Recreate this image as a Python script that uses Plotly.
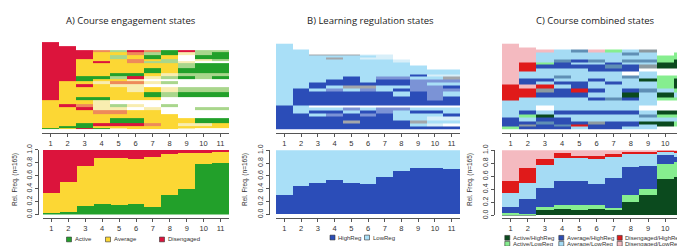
import plotly.graph_objects as go

W, H = 685, 246
def fx(px): return px / W
def fy(px): return 1 - px / H

times = list(range(1, 12))
tick_labels = [str(t) for t in times]
y_ticks = [0, 0.2, 0.4, 0.6, 0.8, 1.0]
y_tick_labels = ["0.0", "0.2", "0.4", "0.6", "0.8", "1.0"]

# ---------------- Panel A: course engagement ----------------
eng_states = ["Active", "Average", "Disengaged"]
eng_colors = ["#22A02A", "#FCD734", "#DC143C"]
eng_active = [0.03, 0.035, 0.13, 0.16, 0.15, 0.16, 0.11, 0.30, 0.39, 0.78, 0.80]
eng_average = [0.30, 0.47, 0.63, 0.71, 0.72, 0.70, 0.775, 0.64, 0.56, 0.18, 0.18]
eng_diseng = [0.67, 0.495, 0.24, 0.13, 0.13, 0.14, 0.115, 0.06, 0.05, 0.04, 0.02]

# sequence index plot rows (top to bottom), '.' = missing
seqA_codes = ["A", "V", "D", "a", "v", "d"]
seqA_colors = ["#22A02A", "#FCD734", "#DC143C", "#A9D68C", "#F8EDB0", "#EE8A5A"]
seqA_rows = [
    "D..........", "DD.........", "DDDdaDdADaa", "DDDVVdaAvaA", "DDDVaVAV.AA",
    "DDVVVdVa.va", "DDVDVdaav..", "DDVVVVVVaAA", "DDVVVVAVAAA", "DDVVAAVvaaa",
    "DDAAaDvaAaA", "DDAVVv.....", "DVVvddva...", "DVDVvv.....", "DVVVVvVvaaa",
    "DVVVVVAaAAA", "DVAAVVV....", "VVVv.......", "VDdvav.a...", "VVDvv.v..aa",
    "VVVddVV....", "VVVVVVVV...", "VVVVAAVVVAA", "VVADDDdVvvV", "VAAVVVVVVVV",
    "AVDAvVVVv..",
]
seqA_weights = [7, 7, 4, 6, 7, 5, 4, 9, 9, 6, 5, 4, 6, 5, 10, 8, 6, 7, 6, 6, 7, 8, 8, 6, 4, 3]

# ---------------- Panel B: learning regulation ----------------
reg_states = ["HighReg", "LowReg"]
reg_colors = ["#2B4DB8", "#A9DFF7"]
reg_high = [0.295, 0.445, 0.485, 0.535, 0.485, 0.47, 0.585, 0.67, 0.72, 0.72, 0.70]
reg_low = [0.705, 0.555, 0.515, 0.465, 0.515, 0.53, 0.415, 0.33, 0.28, 0.28, 0.30]

seqB_codes = ["H", "L", "h", "w", "x"]
seqB_colors = ["#2B4DB8", "#A9DFF7", "#7B93D6", "#D8EFF9", "#A3A6AA"]
seqB_rows = [
    "L..........", "LL.........", "LLxxxww....", "LLLLLLw....", "LLLxLww....",
    "LLLLLLLw...", "LLLLLLLL...", "LLLLLLLLL..", "LLLLLLLLLLL", "LLLLLLLLHww",
    "LLLLHLhhLLx", "LLLHHLHHhhh", "LLHHHHHHhLL", "LLHLxxLLhhH", "LHLhLhLHhhh",
    "LHHHHHHLHhL", "LHHHHHHHHhH", "LHHHHHHHHHH", "HL.........", "HLLLhLhhLLL",
    "HLHHLHhLHHL", "HHLhHhHLLLH", "HHHHHHHLLww", "HHHHxHHHxLL", "HHHHHHHHLw.",
    "HHHHHHHHHHH",
]
seqB_weights = [11, 9, 2, 4, 4, 5, 6, 7, 10, 4, 5, 6, 6, 5, 6, 9, 9, 9, 4, 5, 6, 6, 6, 6, 6, 6]

# ---------------- Panel C: combined states ----------------
comb_states = ["Active/HighReg", "Active/LowReg", "Average/HighReg",
               "Average/LowReg", "Disengaged/HighReg", "Disengaged/LowReg"]
comb_colors = ["#0B4A1E", "#86EE8F", "#2D4DB3", "#A5DBF4", "#E01A1A", "#F4BAC0"]
comb_act_high = [0.01, 0.015, 0.085, 0.10, 0.085, 0.095, 0.075, 0.205, 0.31, 0.55, 0.59]
comb_act_low = [0.025, 0.01, 0.045, 0.06, 0.065, 0.06, 0.04, 0.10, 0.085, 0.24, 0.22]
comb_avg_high = [0.095, 0.22, 0.29, 0.37, 0.37, 0.325, 0.46, 0.435, 0.365, 0.135, 0.09]
comb_avg_low = [0.205, 0.255, 0.35, 0.345, 0.355, 0.38, 0.32, 0.21, 0.185, 0.05, 0.06]
comb_dis_high = [0.185, 0.22, 0.09, 0.075, 0.035, 0.045, 0.04, 0.02, 0.025, 0.015, 0.025]
comb_dis_low = [0.48, 0.28, 0.14, 0.05, 0.09, 0.095, 0.065, 0.03, 0.03, 0.01, 0.015]

seqC_codes = ["G", "g", "B", "b", "R", "P", "s", "x"]
seqC_colors = ["#0B4A1E", "#86EE8F", "#2D4DB3", "#A5DBF4", "#E01A1A", "#F4BAC0", "#5F8FB5", "#8C9AA0"]
seqC_rows = [
    "P..........", "PP.........", "PPPbsPgbx..", "PPbbbbbsb.g", "PPbbbbbbbgg",
    "PPbsBsbssgG", "PRgBbbBbbGG", "PRBBBBsBxGG", "PRbbbBBB...", "Pbbbbbb.b..",
    "Pbbsbbbsbgg", "PBBbbBbbGgG", "PBbBBbBbbgG", "RPRbBbbbbgG", "RRxBRBbBsbg",
    "RRBBBbbGbGb", "RbbbbBsBbgg", "bbbbbbbbb..", "bb.bbbbb...", "bBbBBBBBbGG",
    "bgGbbbbbsgg", "BbBBbbbbbbb", "BBsBBxBBGGg", "BxBsRBBBbGg", "gBBBbBBbb..",
]
seqC_weights = [8, 4, 4, 6, 7, 6, 5, 6, 6, 7, 6, 6, 6, 7, 8, 8, 7, 9, 9, 7, 6, 8, 6, 4, 5]

fig = go.Figure()

def seq_heatmap(rows, weights, codes, colors, xa, ya):
    rows_b = rows[::-1]
    w_b = weights[::-1]
    edges = [0]
    for w in w_b:
        edges.append(edges[-1] + w)
    z = [[(codes.index(c) if c != "." else None) for c in r] for r in rows_b]
    n = len(codes)
    cs = []
    for i, col in enumerate(colors):
        cs.append([i / n, col])
        cs.append([(i + 1) / n, col])
    return go.Heatmap(z=z, x=[t - 0.5 for t in times] + [times[-1] + 0.5], y=edges,
                      zmin=-0.5, zmax=n - 0.5, colorscale=cs, showscale=False,
                      xaxis=xa, yaxis=ya, hoverinfo="skip"), edges[-1]

trA, totA = seq_heatmap(seqA_rows, seqA_weights, seqA_codes, seqA_colors, "x", "y")
trB, totB = seq_heatmap(seqB_rows, seqB_weights, seqB_codes, seqB_colors, "x2", "y2")
trC, totC = seq_heatmap(seqC_rows, seqC_weights, seqC_codes, seqC_colors, "x3", "y3")
fig.add_trace(trA); fig.add_trace(trB); fig.add_trace(trC)

def add_bars(series, colors, names, xa, ya):
    for vals, col, nm in zip(series, colors, names):
        fig.add_trace(go.Bar(x=times, y=vals, name=nm, marker=dict(color=col, line=dict(width=0)),
                             width=1, xaxis=xa, yaxis=ya, showlegend=False, hoverinfo="skip"))

add_bars([eng_active, eng_average, eng_diseng], eng_colors, eng_states, "x4", "y4")
add_bars([reg_high, reg_low], reg_colors, reg_states, "x5", "y5")
add_bars([comb_act_high, comb_act_low, comb_avg_high, comb_avg_low, comb_dis_high, comb_dis_low],
         comb_colors, comb_states, "x6", "y6")

AX = "#555555"
TXT = "#333333"
tick_font = dict(family="Liberation Sans, Arial", size=7.5, color=TXT)

def xaxis_cfg(x0, x1, pos):
    return dict(domain=[fx(x0), fx(x1)], range=[0.5, 11.5], anchor="free", position=fy(pos),
                showline=True, linecolor=AX, linewidth=1, ticks="outside", ticklen=3,
                tickcolor=AX, tickvals=times, ticktext=tick_labels, tickfont=tick_font,
                showgrid=False, zeroline=False, fixedrange=True)

def ytop_cfg(y0, y1, tot):
    return dict(domain=[fy(y1), fy(y0)], range=[0, tot], visible=False, showgrid=False)

def ybot_cfg(y0, y1, pos):
    return dict(domain=[fy(y1), fy(y0)], range=[0, 1], anchor="free", position=fx(pos),
                showline=True, linecolor=AX, linewidth=1, ticks="outside", ticklen=3,
                tickcolor=AX, tickvals=y_ticks, ticktext=y_tick_labels, tickangle=-90,
                tickfont=dict(family="Liberation Sans, Arial", size=7, color=TXT),
                showgrid=False, zeroline=False)

fig.update_layout(
    xaxis=xaxis_cfg(34, 221, 124), yaxis=ytop_cfg(29.3, 120.5, totA),
    xaxis2=xaxis_cfg(268, 452, 124), yaxis2=ytop_cfg(30.7, 120.5, totB),
    xaxis3=xaxis_cfg(494, 683, 124), yaxis3=ytop_cfg(30.7, 120.5, totC),
    xaxis4=xaxis_cfg(35, 221, 213), yaxis4=ybot_cfg(141.7, 209, 30),
    xaxis5=xaxis_cfg(268, 452, 213), yaxis5=ybot_cfg(142, 209, 260.5),
    xaxis6=xaxis_cfg(494, 683, 213), yaxis6=ybot_cfg(142, 210, 486),
)

annotations = []
title_font = dict(family="Open Sans, Liberation Sans", size=9.5, color="#222222")
for txt, cx in [("A) Course engagement states", 123), ("B) Learning regulation states", 362),
                ("C) Course combined states", 587)]:
    annotations.append(dict(text=txt, x=fx(cx), y=fy(7), xref="paper", yref="paper",
                            xanchor="center", yanchor="middle", showarrow=False, font=title_font))
for cx in [7, 237, 462]:
    annotations.append(dict(text="Rel. Freq. (n=165)", x=fx(cx), y=fy(173), xref="paper", yref="paper",
                            xanchor="center", yanchor="middle", textangle=-90, showarrow=False,
                            font=dict(family="Liberation Sans, Arial", size=6.5, color=TXT)))

shapes = []
leg_font = dict(family="Liberation Sans, Arial", size=6, color=TXT)
def legend_item(cx, cy, color, label):
    s = 2.5
    shapes.append(dict(type="rect", xref="paper", yref="paper", x0=fx(cx - s), x1=fx(cx + s),
                       y0=fy(cy + s), y1=fy(cy - s), fillcolor=color, line=dict(color="#333333", width=0.6)))
    annotations.append(dict(text=label, x=fx(cx + 3.5), y=fy(cy), xref="paper", yref="paper",
                            xanchor="left", yanchor="middle", showarrow=False, font=leg_font))

for cx, col, lab in zip([61, 100, 154], eng_colors, eng_states):
    legend_item(cx, 235, col, lab)
for cx, col, lab in zip([324.5, 359], reg_colors, reg_states):
    legend_item(cx, 233, col, lab)
leg_cx = [499.3, 553.3, 611.7, 499.3, 553.3, 611.7]
leg_cy = [233.3, 233.3, 233.3, 239.5, 239.5, 239.5]
order = [0, 2, 4, 1, 3, 5]
for k, idx in enumerate(order):
    legend_item(leg_cx[k], leg_cy[k], comb_colors[idx], comb_states[idx])

fig.update_layout(
    width=W, height=H, margin=dict(l=0, r=0, t=0, b=0),
    paper_bgcolor="white", plot_bgcolor="white",
    barmode="stack", bargap=0, showlegend=False,
    annotations=annotations, shapes=shapes,
)

fig.write_html("out.html")
